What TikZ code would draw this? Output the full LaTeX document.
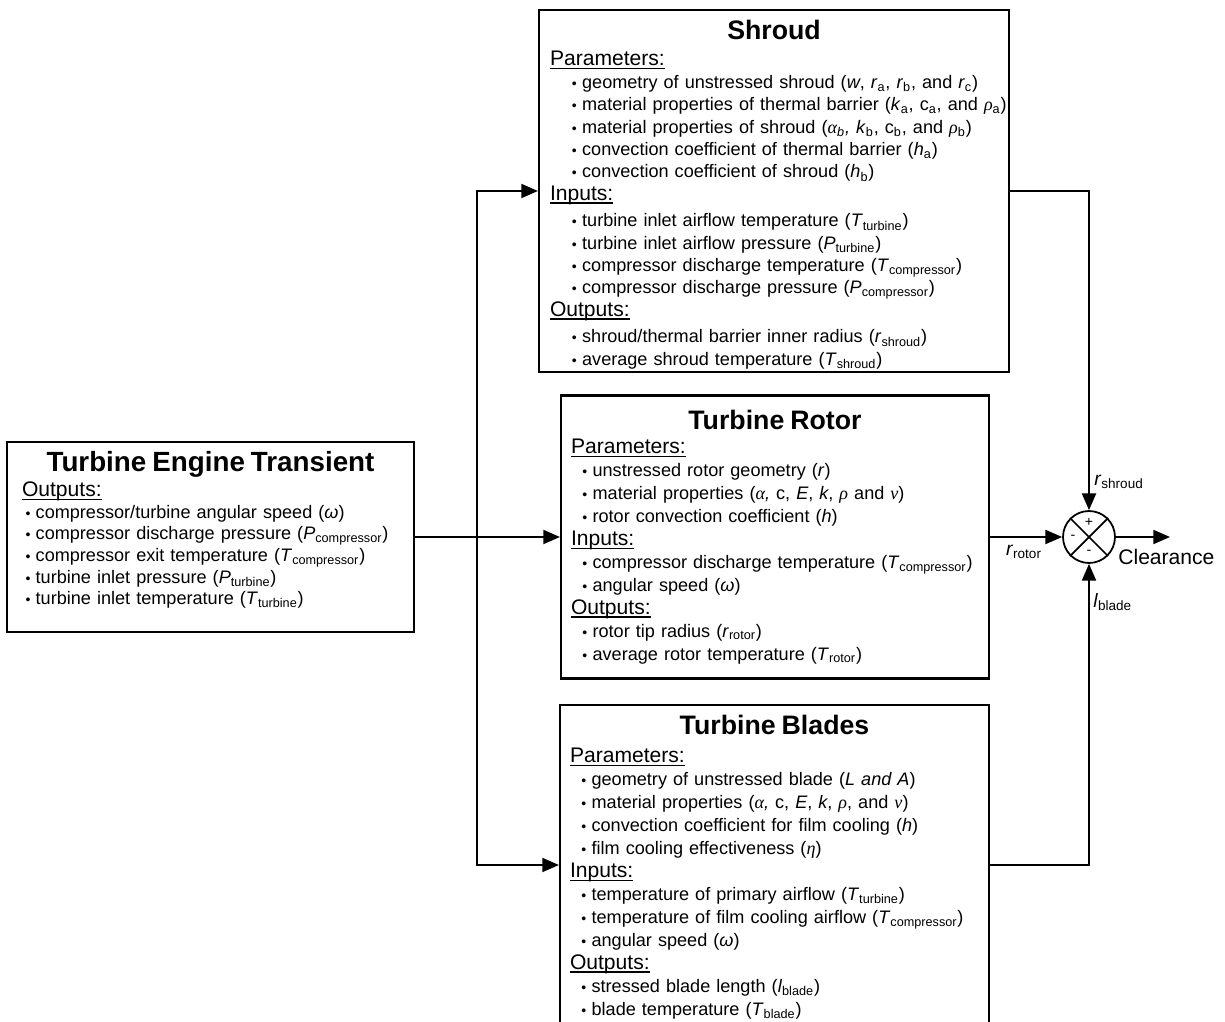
\documentclass[tikz,border=0pt]{standalone}
\usepackage{fontspec}
\setmainfont{Liberation Sans}
\newfontfamily\grkfont{Liberation Serif}
\usetikzlibrary{arrows.meta}
% text helpers for the block contents
\newlength{\bulind}
\newcommand{\gk}[1]{{\grkfont\itshape #1}}
\newcommand{\sbs}[1]{\textsubscript{#1}}
\newcommand{\itm}[1]{\hspace*{\bulind}{\footnotesize\textbullet}\hspace{3pt}\mbox{#1}}
\newcommand{\hd}[1]{\leavevmode{\fontsize{12}{12.6}\selectfont\setbox0\hbox{#1}\rlap{\rule[-1.9pt]{\wd0}{0.7pt}}\box0}}
\newcommand{\ttl}[2][15.2]{\makebox[\linewidth][c]{\fontsize{#1}{15.5}\selectfont\bfseries #2}}
\begin{document}
\begin{tikzpicture}[
  blockbox/.style={draw,line width=1.2pt,inner sep=0pt},
  boxtext/.style={anchor=north,inner sep=0pt,align=left},
  conn/.style={line width=1pt,-{Triangle[length=9.5pt,width=8pt]}},
  lbl/.style={inner sep=0pt,font={\fontsize{11}{13}\selectfont}}
]
\useasboundingbox (0,0) rectangle (24.5,-20.44);
\clip (0,0) rectangle (24.5,-20.44);
%% the blocks
\node[blockbox,minimum width=8.14cm,minimum height=3.8cm] (trans) at (4.21,-10.74) {};
\node[blockbox,minimum width=9.4cm,minimum height=7.24cm] (shroud) at (15.48,-3.82) {};
\node[blockbox,minimum width=8.56cm,minimum height=5.66cm] (rotor) at (15.50,-10.74) {};
\node[blockbox,minimum width=8.58cm,minimum height=6.4cm] (blades) at (15.49,-17.30) {};
%% their texts
\node[boxtext,text width=7.54cm,font={\fontsize{10.3}{12.3}\selectfont}] (transtxt) at ([yshift=-0.2cm]trans.north) {\setlength{\bulind}{2pt}\ttl[15.8]{Turbine Engine Transient}\\[2pt]
\hd{Outputs:}\\
\itm{compressor/turbine angular speed (\textit{ω})}\\
\itm{compressor discharge pressure (\textit{P}\sbs{compressor})}\\
\itm{compressor exit temperature (\textit{T}\sbs{compressor})}\\
\itm{turbine inlet pressure (\textit{P}\sbs{turbine})}\\
\itm{turbine inlet temperature (\textit{T}\sbs{turbine})}};
\node[boxtext,text width=8.96cm,font={\fontsize{10.3}{12.7}\selectfont}] (shroudtxt) at ([yshift=-0.22cm]shroud.north) {\setlength{\bulind}{12.5pt}\ttl{Shroud}\\[2pt]
\hd{Parameters:}\\[0.5pt]
\itm{geometry of unstressed shroud (\textit{w}, \textit{r}\sbs{a}, \textit{r}\sbs{b}, and \textit{r}\sbs{c})}\\
\itm{material properties of thermal barrier (\textit{k}\sbs{a}, c\sbs{a}, and \gk{ρ}\sbs{a})}\\
\itm{material properties of shroud (\gk{α}\sbs{\textit{b}}\textit{,} \textit{k}\sbs{b}, c\sbs{b}, and \gk{ρ}\sbs{b})}\\
\itm{convection coefficient of thermal barrier (\textit{h}\sbs{a})}\\
\itm{convection coefficient of shroud (\textit{h}\sbs{b})}\\
\hd{Inputs:}\\[2.5pt]
\itm{turbine inlet airflow temperature (\textit{T}\sbs{turbine})}\\
\itm{turbine inlet airflow pressure (\textit{P}\sbs{turbine})}\\
\itm{compressor discharge temperature (\textit{T}\sbs{compressor})}\\
\itm{compressor discharge pressure (\textit{P}\sbs{compressor})}\\
\hd{Outputs:}\\[2.5pt]
\itm{shroud/thermal barrier inner radius (\textit{r}\sbs{shroud})}\\
\itm{average shroud temperature (\textit{T}\sbs{shroud})}};
\node[boxtext,text width=8.16cm,font={\fontsize{10.3}{13.05}\selectfont}] (rotortxt) at ([yshift=-0.3cm]rotor.north) {\setlength{\bulind}{6.5pt}\ttl{Turbine Rotor}\\[1pt]
\hd{Parameters:}\\
\itm{unstressed rotor geometry (\textit{r})}\\
\itm{material properties (\gk{α}\textit{,} c, \textit{E}, \textit{k}, \gk{ρ} and \gk{ν})}\\
\itm{rotor convection coefficient (\textit{h})}\\
\hd{Inputs:}\\
\itm{compressor discharge temperature (\textit{T}\sbs{compressor})}\\
\itm{angular speed (\textit{ω})}\\
\hd{Outputs:}\\
\itm{rotor tip radius (\textit{r}\sbs{rotor})}\\
\itm{average rotor temperature (\textit{T}\sbs{rotor})}};
\node[boxtext,text width=8.18cm,font={\fontsize{10.3}{13.05}\selectfont}] (bladestxt) at ([yshift=-0.22cm]blades.north) {\setlength{\bulind}{6.5pt}\ttl{Turbine Blades}\\[3pt]
\hd{Parameters:}\\
\itm{geometry of unstressed blade (\textit{L and A})}\\
\itm{material properties (\gk{α}\textit{,} c, \textit{E}, \textit{k}, \gk{ρ}, and \gk{ν})}\\
\itm{convection coefficient for film cooling (\textit{h})}\\
\itm{film cooling effectiveness (\gk{η})}\\
\hd{Inputs:}\\
\itm{temperature of primary airflow (\textit{T}\sbs{turbine})}\\
\itm{temperature of film cooling airflow (\textit{T}\sbs{compressor})}\\
\itm{angular speed (\textit{ω})}\\
\hd{Outputs:}\\
\itm{stressed blade length (\textit{l}\sbs{blade})}\\
\itm{blade temperature (\textit{T}\sbs{blade})}};
%% the summing junction
\node[draw,circle,line width=1pt,minimum size=1.04cm,inner sep=0pt] (sum) at (21.78,-10.74) {};
\draw[line width=1pt] (sum.north west) -- (sum.south east);
\draw[line width=1pt] (sum.north east) -- (sum.south west);
\node[font=\footnotesize,inner sep=0pt] (plus) at (21.78,-10.44) {+};
\node[font=\footnotesize,inner sep=0pt] (minusl) at (21.46,-10.74) {-};
\node[font=\footnotesize,inner sep=0pt] (minusb) at (21.78,-11.04) {-};
\coordinate (split) at (9.54,-10.74);
\coordinate (clear) at (23.40,-10.74);
%% connectors
\draw[conn] (trans.east) -- (rotor.west);
\draw[conn] (split) |- (shroud.west);
\draw[conn] (split) |- (blades.west);
\draw[conn] (shroud.east) -| (sum.north);
\draw[conn] (rotor.east) -- (sum.west);
\draw[conn] (blades.east) -| (sum.south);
\draw[conn] (sum.east) -- (clear);
%% signal labels
\node[lbl,anchor=west] (lshroud) at (21.88,-9.64) {\textit{r}\sbs{shroud}};
\node[lbl] (lrotor) at (20.48,-11.04) {\textit{r}\sbs{rotor}};
\node[lbl,anchor=west] (lblade) at (21.86,-12.04) {\textit{l}\sbs{blade}};
\node[lbl,anchor=west,font={\fontsize{12}{14}\selectfont}] (lclear) at (22.36,-11.14) {Clearance};
\end{tikzpicture}
\end{document}
